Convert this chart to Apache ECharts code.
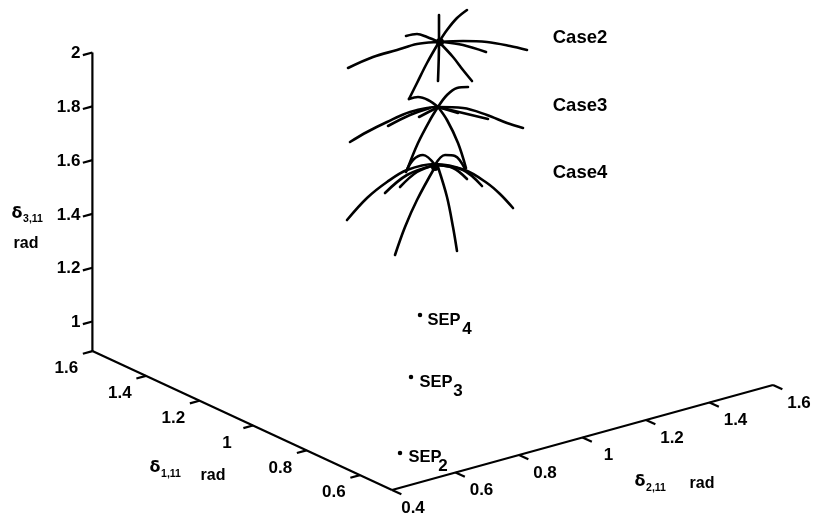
<!DOCTYPE html>
<html><head><meta charset="utf-8">
<style>html,body{margin:0;padding:0;background:#fff}#c{width:817px;height:514px}</style>
<script src="https://cdn.jsdelivr.net/npm/echarts@6/dist/echarts.min.js"></script>
</head><body><div id="c"></div>
<script>
// Tick values of the three axes
const delta1Ticks = [0.6, 0.8, 1, 1.2, 1.4, 1.6];
const delta2Ticks = [0.4, 0.6, 0.8, 1, 1.2, 1.4, 1.6];
const delta3Ticks = [1, 1.2, 1.4, 1.6, 1.8, 2];
const delta1Range = [0.48, 1.6];
const delta3Range = [0.89, 2];

// Curves, in the projected plane of the 3-D view
const case2Wide = [[348,68],[373,57],[397,50],[417,44],[439,42],[463,41],[487,42],[510,46],[527,50]];
const case2UpLeft = [[406,36],[417,34],[427,37],[439,42]];
const case2UpRight = [[439,42],[447,30],[457,18],[467,10]];
const case2Vertical = [[439,15],[439,42],[438,81]];
const case2Right = [[439,42],[453,57],[463,70],[472,81]];
const case2RightShort = [[443,42],[463,45],[486,52]];
const case2Down = [[439,42],[427,63],[417,83],[409,99]];
const case3HumpL = [[409,99],[418,97],[428,100],[438,107]];
const case3HumpR = [[438,107],[447,95],[457,88],[468,87]];
const case3Wide = [[350,142],[367,132],[387,122],[410,112],[438,107],[463,108],[487,115],[507,123],[523,128]];
const case3Short1 = [[388,126],[410,115],[430,108]];
const case3Short2 = [[419,117],[438,107]];
const case3Short3 = [[438,107],[458,113]];
const case3Short4 = [[438,107],[488,119]];
const case3DownL = [[438,107],[430,120],[418,143],[407,170]];
const case3DownR = [[438,107],[447,120],[458,143],[466,168]];
const case4HumpL = [[406,172],[413,160],[423,155],[435,165]];
const case4HumpR = [[435,165],[445,155],[455,156],[465,169]];
const case4Wide = [[347,220],[367,198],[387,182],[407,170],[435,164],[465,170],[487,183],[500,194],[513,208]];
const case4Short1 = [[385,193],[407,175],[435,165]];
const case4Short2 = [[400,187],[417,172],[435,165]];
const case4Short3 = [[435,165],[453,168],[467,179]];
const case4Short4 = [[435,165],[463,170],[482,186]];
const case4DownL = [[435,167],[417,200],[405,227],[395,255]];
const case4DownR = [[438,167],[447,197],[453,227],[457,251]];
const curves = [case2Wide,case2UpLeft,case2UpRight,case2Vertical,case2Right,case2RightShort,case2Down,
  case3HumpL,case3HumpR,case3Wide,case3Short1,case3Short2,case3Short3,case3Short4,case3DownL,case3DownR,
  case4HumpL,case4HumpR,case4Wide,case4Short1,case4Short2,case4Short3,case4Short4,case4DownL,case4DownR];
const sepPoints = [[420,315],[411,377],[400,453]];
const caseHubs = [[440,42],[435,167]];

// Annotation text
const texts = [
  ['Case2',580,38,18.5],['Case3',580,106,18.5],['Case4',580,173,18.5],
  ['SEP',444,320,16.5],['4',467,329,17],
  ['SEP',436,382,16.5],['3',458,391,17],
  ['SEP',425,457,16.5],['2',443,466,17],
  ['δ',17,214,16],['3,11',33,219,10.5],['rad',26,244,16],
  ['δ',155,468,16],['1,11',171,474,10.5],['rad',213,476,16],
  ['δ',640,482,16],['2,11',656,488,10.5],['rad',702,484,16]
];

// View projection of the 3-D box onto the page plane
function project(d1, d2, d3) {
  return [392 + (d1 - 0.48) * -267.5 + (d2 - 0.4) * 317.5,
          490 + (d1 - 0.48) * -124 + (d2 - 0.4) * -87.5 + (d3 - 0.89) * -269];
}
const floor = delta3Range[0];
const axisLines = [
  [project(delta1Range[1], 0.4, floor), project(delta1Range[0], 0.4, floor)],
  [project(delta1Range[0], 0.4, floor), project(delta1Range[0], 1.6, floor)],
  [project(delta1Range[1], 0.4, floor), project(delta1Range[1], 0.4, delta3Range[1])]
];
const tickLen = 0.03, tickLen1 = 0.035;
const tickLines = [];
delta1Ticks.forEach(v => tickLines.push([project(v,0.4,floor), project(v,0.4-tickLen,floor)]));
delta2Ticks.forEach(v => tickLines.push([project(delta1Range[0],v,floor), project(delta1Range[0]-tickLen1,v,floor)]));
delta3Ticks.forEach(v => tickLines.push([project(delta1Range[1],0.4,v), project(delta1Range[1],0.4-tickLen,v)]));

const tickLabels = [];
function addLabel(p, v, dx, dy, align) {
  tickLabels.push({value:[p[0]+dx,p[1]+dy], txt:String(v), align});
}
delta1Ticks.forEach(v => addLabel(project(v,0.4,floor), v, -26, 17.5, 'center'));
delta2Ticks.forEach((v,i) => addLabel(project(delta1Range[0],v,floor), v, i===0?21:26, 18, 'center'));
delta3Ticks.forEach(v => addLabel(project(delta1Range[1],0.4,v), v, -12, 1, 'right'));

const FONT = '"Liberation Sans", Arial, sans-serif';
const series = [];
const lineBase = {type:'line',showSymbol:false,silent:true,animation:false,clip:false};
axisLines.concat(tickLines).forEach(d => series.push({...lineBase,data:d,lineStyle:{color:'#000',width:2.2,opacity:1}}));
curves.forEach(d => series.push({...lineBase,data:d,smooth:0.35,lineStyle:{color:'#000',width:2.6,opacity:1,cap:'round',join:'round'}}));
const dot = size => ({type:'scatter',silent:true,animation:false,symbolSize:size,itemStyle:{color:'#000',opacity:1}});
series.push({...dot(4.5),data:sepPoints});
series.push({...dot(8),data:caseHubs});
series.push({...dot(0),
  data:tickLabels.map(l=>({value:l.value,label:{show:true,position:'inside',formatter:l.txt,align:l.align,verticalAlign:'middle',
    fontFamily:FONT,fontSize:17,fontWeight:'bold',color:'#000',opacity:1}}))});
series.push({...dot(0),
  data:texts.map(t=>({value:[t[1],t[2]],label:{show:true,position:'inside',formatter:t[0],align:'center',verticalAlign:'middle',
    fontFamily:t[0]==='δ'?'"DejaVu Sans"':FONT,fontSize:t[3],fontWeight:'bold',color:'#000',opacity:1}}))});

const chart = echarts.init(document.getElementById('c'),null,{renderer:'canvas'});
chart.setOption({
  backgroundColor:'#fff',animation:false,
  grid:{left:0,right:0,top:0,bottom:0},
  xAxis:{type:'value',min:0,max:817,show:false},
  yAxis:{type:'value',min:0,max:514,inverse:true,show:false},
  series
});
</script></body></html>
